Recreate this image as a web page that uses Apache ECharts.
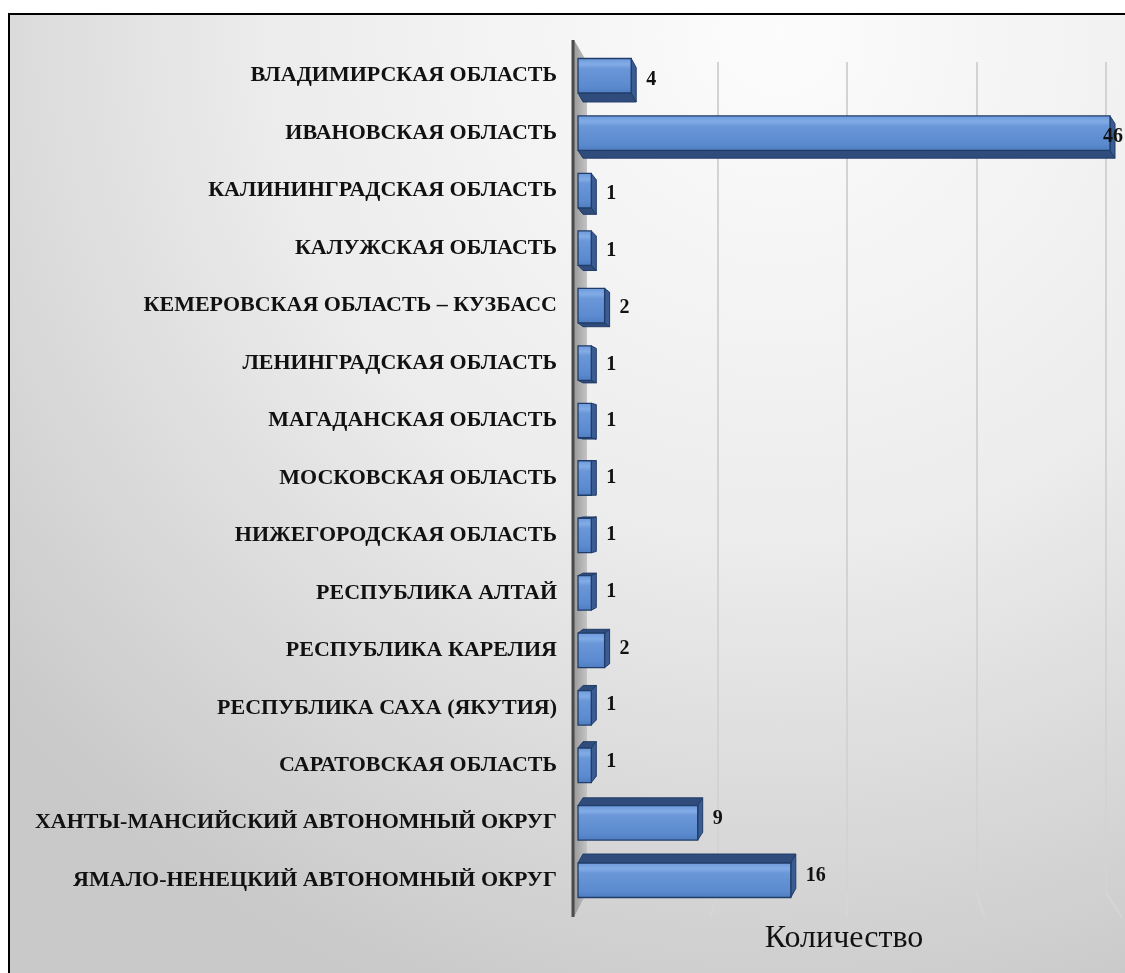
<!DOCTYPE html>
<html>
<head>
<meta charset="utf-8">
<script src="https://cdn.jsdelivr.net/npm/echarts@6/dist/echarts.min.js"></script>
<style>
  html, body { margin: 0; padding: 0; background: #fff; }
  #main { width: 1125px; height: 973px; }
</style>
</head>
<body>
<div id="main"></div>
<script>
// регионы и количество
const categories = [
  'ВЛАДИМИРСКАЯ ОБЛАСТЬ',
  'ИВАНОВСКАЯ ОБЛАСТЬ',
  'КАЛИНИНГРАДСКАЯ ОБЛАСТЬ',
  'КАЛУЖСКАЯ ОБЛАСТЬ',
  'КЕМЕРОВСКАЯ ОБЛАСТЬ – КУЗБАСС',
  'ЛЕНИНГРАДСКАЯ ОБЛАСТЬ',
  'МАГАДАНСКАЯ ОБЛАСТЬ',
  'МОСКОВСКАЯ ОБЛАСТЬ',
  'НИЖЕГОРОДСКАЯ ОБЛАСТЬ',
  'РЕСПУБЛИКА АЛТАЙ',
  'РЕСПУБЛИКА КАРЕЛИЯ',
  'РЕСПУБЛИКА САХА (ЯКУТИЯ)',
  'САРАТОВСКАЯ ОБЛАСТЬ',
  'ХАНТЫ-МАНСИЙСКИЙ АВТОНОМНЫЙ ОКРУГ',
  'ЯМАЛО-НЕНЕЦКИЙ АВТОНОМНЫЙ ОКРУГ',
];
const values = [4, 46, 1, 1, 2, 1, 1, 1, 1, 1, 2, 1, 1, 9, 16];
const axisName = 'Количество';
const axisMax = 40;
const axisStep = 10;

const serif = '"Liberation Serif", "Times New Roman", serif';

// перспектива "3D" как в Excel
const VX = 835, VY = 478, K = 0.0224, DX = 5, BACK_SCALE = 0.946;

var chart = echarts.init(document.getElementById('main'));

const renderBar = (params, api) => {
  const val = api.value(0);
  const idx = api.value(1);
  const cs = params.coordSys;
  const p = api.coord([val, idx]);
  const p0 = api.coord([0, idx]);
  const clipped = p[0] > cs.x + cs.width;
  const x0 = p0[0];
  const xe = Math.min(p[0], cs.x + cs.width);
  const h = api.size([0, 1])[1] * 0.6;
  const yc = p[1];
  const yt = yc - h / 2;
  const yb = yc + h / 2;
  const dy = (VY - yc) * K;
  const stroke = '#203c68';

  const children = [];
  // верх / низ
  const ye = dy > 0 ? yb : yt;
  children.push({
    type: 'polygon',
    shape: { points: [[x0, ye], [xe, ye], [xe + DX, ye + dy], [x0 + DX, ye + dy]] },
    style: { fill: '#2f4c7c', stroke: stroke, lineWidth: 1 },
  });
  // боковая грань
  children.push({
    type: 'polygon',
    shape: { points: [[xe, yt], [xe + DX, yt + dy], [xe + DX, yb + dy], [xe, yb]] },
    style: { fill: '#3a5c93', stroke: stroke, lineWidth: 1 },
  });
  // лицевая грань
  children.push({
    type: 'rect',
    shape: { x: x0, y: yt, width: xe - x0, height: h },
    style: {
      fill: {
        type: 'linear', x: 0, y: 0, x2: 0, y2: 1,
        colorStops: [
          { offset: 0, color: '#6a98da' },
          { offset: 0.18, color: '#82ace6' },
          { offset: 0.3, color: '#6a97d8' },
          { offset: 0.8, color: '#5b8acf' },
          { offset: 1, color: '#4f7cbf' },
        ],
      },
      stroke: stroke,
      lineWidth: 1.3,
    },
  });
  children.push({
    type: 'text',
    style: {
      text: String(val),
      x: clipped ? xe - 7 : xe + DX + 10,
      y: yc + dy / 2,
      fill: '#111',
      fontFamily: serif,
      fontWeight: 'bold',
      fontSize: 20,
      align: 'left',
      verticalAlign: 'middle',
    },
  });
  return { type: 'group', children: children };
};

const option = {
  animation: false,
  graphic: [
    {
      type: 'rect',
      z: -10,
      shape: { x: 9, y: 14, width: 1130, height: 975 },
      style: {
        fill: {
          type: 'radial', x: 0.68, y: 0.02, r: 1.05,
          colorStops: [
            { offset: 0, color: '#fcfcfc' },
            { offset: 0.5, color: '#ececec' },
            { offset: 1, color: '#c9c9c9' },
          ],
        },
        stroke: '#000',
        lineWidth: 2,
      },
    },
    // боковая стенка оси
    {
      type: 'polygon',
      z: 1,
      shape: { points: [[574, 40], [587, 62], [587, 892], [574, 917]] },
      style: {
        fill: {
          type: 'linear', x: 0, y: 0, x2: 1, y2: 0,
          colorStops: [
            { offset: 0, color: '#9a9a9a' },
            { offset: 1, color: '#c4c4c4' },
          ],
        },
      },
    },
    {
      type: 'line',
      z: 1,
      shape: { x1: 573, y1: 40, x2: 573, y2: 917 },
      style: { stroke: '#4a4a4a', lineWidth: 3 },
    },
  ],
  grid: [
    { left: 578, top: 47, width: 532, height: 862 },
    { left: 588, top: 62, width: 518, height: 830 },
  ],
  xAxis: [
    {
      gridIndex: 0,
      type: 'value',
      min: 0,
      max: axisMax,
      interval: axisStep,
      name: axisName,
      nameLocation: 'middle',
      nameGap: 14,
      nameTextStyle: { fontFamily: serif, fontSize: 32, color: '#111' },
      axisLine: { show: false },
      axisTick: { show: false },
      axisLabel: { show: false },
      splitLine: { show: false },
    },
    {
      gridIndex: 1,
      type: 'value',
      min: 0,
      max: axisMax,
      interval: axisStep,
      axisLine: { show: false },
      axisTick: { show: false },
      axisLabel: { show: false },
      splitLine: { show: true, showMinLine: false, lineStyle: { color: '#d3d3d3', width: 2 } },
    },
  ],
  yAxis: [
    {
      gridIndex: 0,
      type: 'category',
      data: categories,
      inverse: true,
      axisLine: { show: false },
      axisTick: { show: false },
      axisLabel: {
        margin: 21,
        color: '#111',
        fontFamily: serif,
        fontWeight: 'bold',
        fontSize: 22,
      },
    },
    {
      gridIndex: 1,
      type: 'value',
      min: 0,
      max: 1,
      show: false,
    },
  ],
  series: [
    {
      type: 'custom',
      xAxisIndex: 0,
      yAxisIndex: 0,
      z: 3,
      renderItem: renderBar,
      encode: { x: 0, y: 1 },
      data: values.map((v, i) => [v, i]),
    },
  ],
};
chart.setOption(option);

// "пол" — наклонные концы линий сетки
const feet = [];
for (let t = axisStep; t <= axisMax; t += axisStep) {
  const b = chart.convertToPixel({ xAxisIndex: 1, yAxisIndex: 1 }, [t, 0]);
  feet.push({
    type: 'line',
    z: 1,
    shape: { x1: b[0], y1: b[1], x2: VX + (b[0] - VX) / BACK_SCALE, y2: 917 },
    style: { stroke: '#d6d6d6', lineWidth: 2 },
  });
}
chart.setOption({ graphic: option.graphic.concat(feet) });
</script>
</body>
</html>
